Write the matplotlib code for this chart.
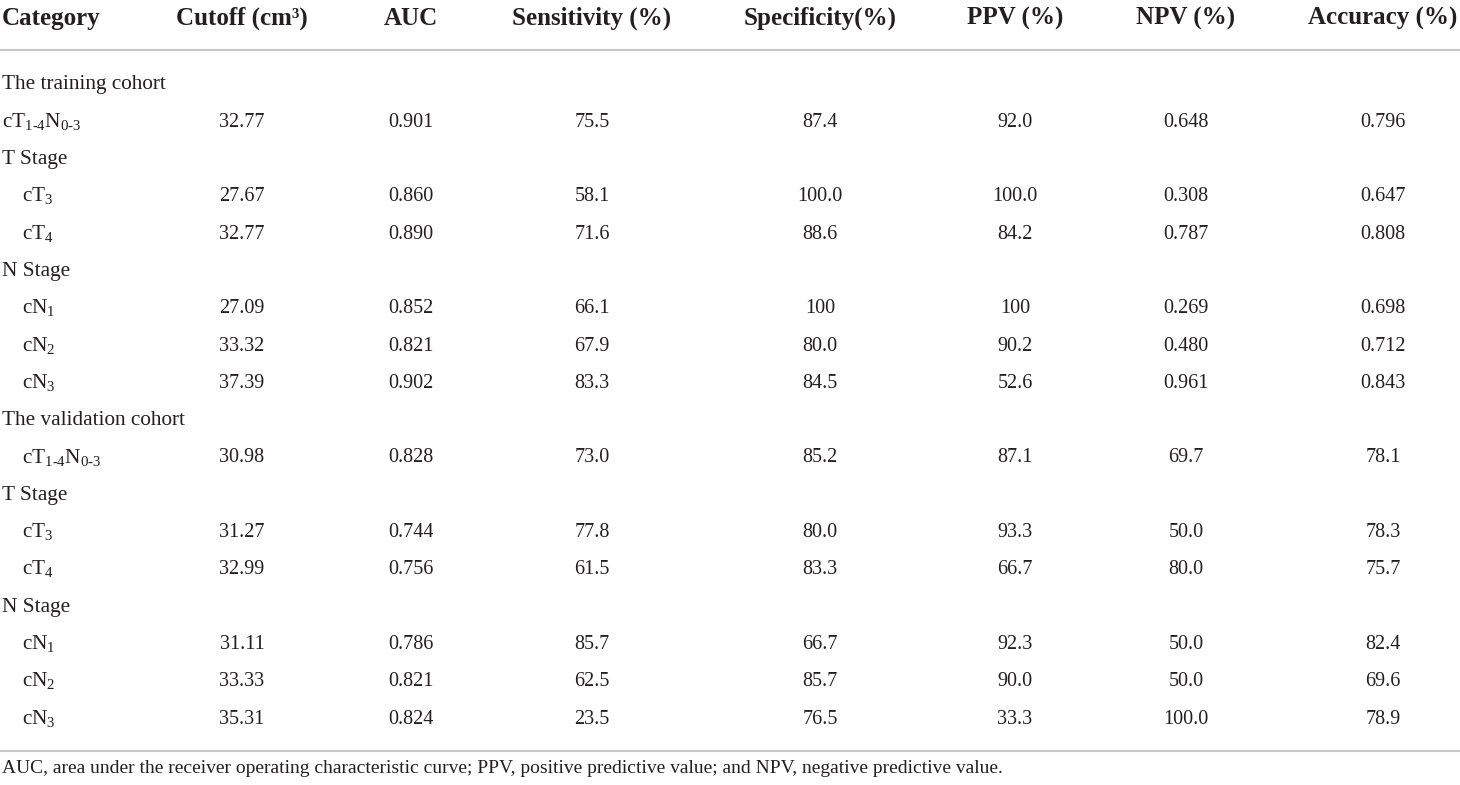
import matplotlib.pyplot as plt

plt.rcParams["font.family"] = "Liberation Serif"
plt.rcParams["mathtext.fontset"] = "custom"
plt.rcParams["mathtext.rm"] = "Liberation Serif"
plt.rcParams["mathtext.it"] = "Liberation Serif:italic"
plt.rcParams["mathtext.bf"] = "Liberation Serif:bold"

W, H = 1460, 785
TEXT_COLOR = "#231f20"
LINE_COLOR = "#c8c8c8"

headers = ["Category", "Cutoff (cm³)", "AUC", "Sensitivity (%)", "Specificity(%)",
           "PPV (%)", "NPV (%)", "Accuracy (%)"]

# Row labels; indent = 1 for sub rows, None values = section row
categories = ["The training cohort", r"cT$_{\text{1-4}}$N$_{\text{0-3}}$", "T Stage",
              r"cT$_3$", r"cT$_4$", "N Stage", r"cN$_1$", r"cN$_2$", r"cN$_3$",
              "The validation cohort", r"cT$_{\text{1-4}}$N$_{\text{0-3}}$", "T Stage",
              r"cT$_3$", r"cT$_4$", "N Stage", r"cN$_1$", r"cN$_2$", r"cN$_3$"]
indent = [0, 0, 0, 1, 1, 0, 1, 1, 1, 0, 1, 0, 1, 1, 0, 1, 1, 1]

cutoff = [None, "32.77", None, "27.67", "32.77", None, "27.09", "33.32", "37.39",
          None, "30.98", None, "31.27", "32.99", None, "31.11", "33.33", "35.31"]
auc = [None, "0.901", None, "0.860", "0.890", None, "0.852", "0.821", "0.902",
       None, "0.828", None, "0.744", "0.756", None, "0.786", "0.821", "0.824"]
sensitivity = [None, "75.5", None, "58.1", "71.6", None, "66.1", "67.9", "83.3",
               None, "73.0", None, "77.8", "61.5", None, "85.7", "62.5", "23.5"]
specificity = [None, "87.4", None, "100.0", "88.6", None, "100", "80.0", "84.5",
               None, "85.2", None, "80.0", "83.3", None, "66.7", "85.7", "76.5"]
ppv = [None, "92.0", None, "100.0", "84.2", None, "100", "90.2", "52.6",
       None, "87.1", None, "93.3", "66.7", None, "92.3", "90.0", "33.3"]
npv = [None, "0.648", None, "0.308", "0.787", None, "0.269", "0.480", "0.961",
       None, "69.7", None, "50.0", "80.0", None, "50.0", "50.0", "100.0"]
accuracy = [None, "0.796", None, "0.647", "0.808", None, "0.698", "0.712", "0.843",
            None, "78.1", None, "78.3", "75.7", None, "82.4", "69.6", "78.9"]

footnote = ("AUC, area under the receiver operating characteristic curve; "
            "PPV, positive predictive value; and NPV, negative predictive value.")

columns = [cutoff, auc, sensitivity, specificity, ppv, npv, accuracy]
col_x = [242, 411, 592, 820, 1015, 1186, 1383]


def fx(px):
    return px / W


def fy(py):
    return 1 - py / H


fig = plt.figure(figsize=(W / 100, H / 100), dpi=100)
fig.patch.set_facecolor("white")

# header
fig.text(fx(2), fy(25), headers[0], fontsize=18, fontweight="bold",
         color=TEXT_COLOR, ha="left", va="baseline")
for name, x in zip(headers[1:], col_x):
    fig.text(fx(x), fy(25), name, fontsize=18, fontweight="bold",
             color=TEXT_COLOR, ha="center", va="baseline")

fig.add_artist(plt.Line2D([0, 1], [fy(50), fy(50)], color=LINE_COLOR, lw=1.5))

# body rows
for i, label in enumerate(categories):
    y = fy(89.5 + 37.3 * i)
    x0 = 22 if indent[i] else 2
    fig.text(fx(x0), y, label, fontsize=15.3, color=TEXT_COLOR,
             ha="left", va="baseline")
    for col, x in zip(columns, col_x):
        if col[i] is not None:
            fig.text(fx(x), y, col[i], fontsize=14.5, color=TEXT_COLOR,
                     ha="center", va="baseline")

fig.add_artist(plt.Line2D([0, 1], [fy(751), fy(751)], color=LINE_COLOR, lw=1.5))

fig.text(fx(2), fy(773), footnote, fontsize=14, color=TEXT_COLOR,
         ha="left", va="baseline")

fig.savefig("out.png", dpi=100, facecolor="white")
